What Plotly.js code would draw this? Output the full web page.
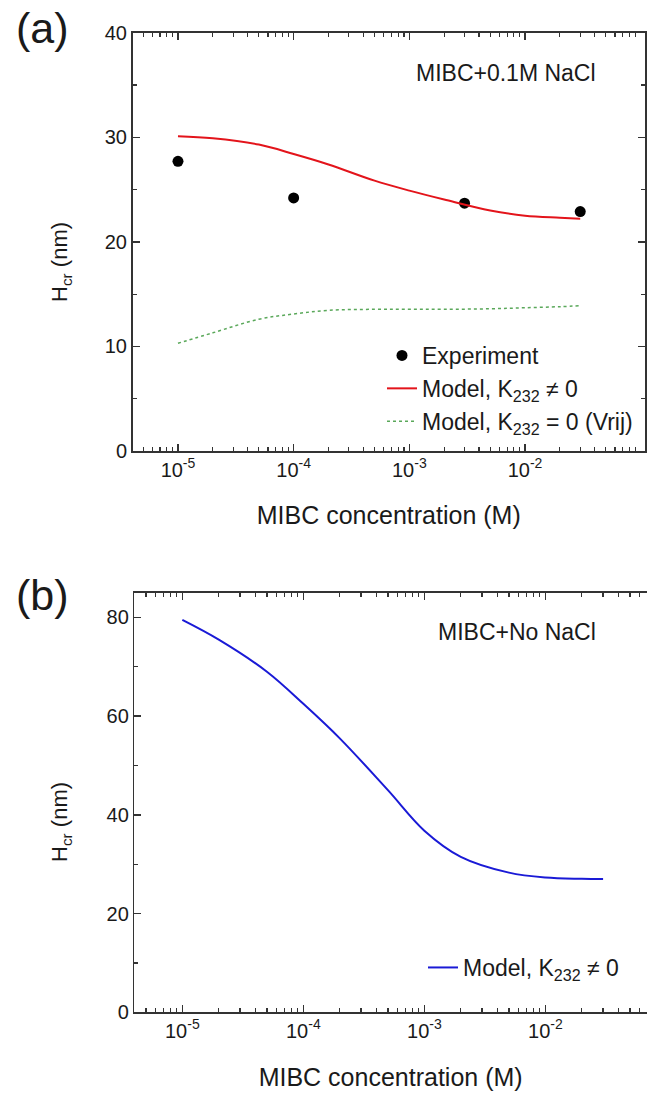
<!DOCTYPE html>
<html><head><meta charset="utf-8">
<script src="https://cdn.plot.ly/plotly-3.0.1.min.js"></script>
<style>body{margin:0;padding:0;background:#fff}#chart{width:647px;height:1093px}</style>
</head><body><div id="chart"></div>
<script>
// ---- data ----
const expConc = [1e-5, 1e-4, 3e-3, 3e-2];
const expHcr = [27.7, 24.2, 23.7, 22.9];
const modelConc = [1e-5, 2e-5, 5e-5, 1e-4, 2e-4, 5e-4, 1e-3, 2e-3, 5e-3, 1e-2, 2e-2, 3e-2];
const modelSaltK = [30.1, 29.9, 29.3, 28.4, 27.4, 25.85, 24.9, 24.05, 23.0, 22.5, 22.3, 22.2];
const modelSaltVrij = [10.3, 11.3, 12.6, 13.1, 13.45, 13.55, 13.55, 13.55, 13.6, 13.7, 13.8, 13.9];
const modelNoSaltK = [79.5, 75.5, 69.0, 62.5, 55.5, 45.0, 36.8, 31.5, 28.3, 27.3, 27.05, 27.0];
const xTickVals = [1e-5, 1e-4, 1e-3, 1e-2];
const xTickText = ['10<sup>-5</sup>', '10<sup>-4</sup>', '10<sup>-3</sup>', '10<sup>-2</sup>'];

// ---- layout helpers ----
const W = 647, H = 1093;
const px = v => v / W, py = v => 1 - v / H;
const FONT = 'Liberation Sans, Arial, sans-serif';
const AX = '#333';
const TXT = '#1a1a1a';
const minorVals = [];
for (let e = -6; e <= -1; e++) for (let m = 2; m <= 9; m++) minorVals.push(m * Math.pow(10, e));

function xAxis(domain, range, anchor) {
  return {
    type: 'log', domain: domain, range: range, anchor: anchor,
    showline: true, linecolor: AX, linewidth: 1.5, mirror: 'ticks',
    ticks: 'inside', ticklen: 7, tickwidth: 1.5, tickcolor: AX,
    tickmode: 'array', tickvals: xTickVals, ticktext: xTickText,
    minor: {tickmode: 'array', tickvals: minorVals, ticks: 'inside', ticklen: 4, tickwidth: 1.2, tickcolor: AX, showgrid: false},
    showgrid: false, zeroline: false,
    tickfont: {family: FONT, size: 20, color: TXT},
    title: {text: 'MIBC concentration (M)', font: {family: FONT, size: 25, color: TXT}, standoff: 27}
  };
}
function yAxis(domain, range, dtick, anchor, mirror) {
  return {
    domain: domain, range: range, anchor: anchor,
    showline: true, linecolor: AX, linewidth: 1.5, mirror: mirror,
    ticks: 'inside', ticklen: 7, tickwidth: 1.5, tickcolor: AX,
    tickmode: 'linear', tick0: 0, dtick: dtick,
    minor: {dtick: dtick / 2, ticks: 'inside', ticklen: 4, tickwidth: 1.2, tickcolor: AX, showgrid: false},
    showgrid: false, zeroline: false,
    tickfont: {family: FONT, size: 20, color: TXT}
  };
}

const traces = [
  {x: expConc, y: expHcr, type: 'scatter', mode: 'markers', name: 'Experiment',
   marker: {color: '#000', size: 11}, xaxis: 'x', yaxis: 'y', legend: 'legend'},
  {x: modelConc, y: modelSaltK, type: 'scatter', mode: 'lines', name: 'Model, K<sub>232</sub> ≠ 0',
   line: {color: '#e3141b', width: 2, shape: 'spline'}, xaxis: 'x', yaxis: 'y', legend: 'legend'},
  {x: modelConc, y: modelSaltVrij, type: 'scatter', mode: 'lines', name: 'Model, K<sub>232</sub> = 0 (Vrij)',
   line: {color: '#5aa85a', width: 1.5, dash: 'dot', shape: 'spline'}, xaxis: 'x', yaxis: 'y', legend: 'legend'},
  {x: modelConc, y: modelNoSaltK, type: 'scatter', mode: 'lines', name: 'Model, K<sub>232</sub> ≠ 0',
   line: {color: '#1a1ad6', width: 2, shape: 'spline'}, xaxis: 'x2', yaxis: 'y2', legend: 'legend2'}
];

const legFont = {family: FONT, size: 23, color: TXT};
function ann(text, x, y, size, extra) {
  return Object.assign({text: text, x: px(x), y: py(y), xref: 'paper', yref: 'paper',
    xanchor: 'center', yanchor: 'middle', showarrow: false,
    font: {family: FONT, size: size, color: TXT}}, extra || {});
}
const layout = {
  width: W, height: H, margin: {l: 0, r: 0, t: 0, b: 0},
  paper_bgcolor: '#fff', plot_bgcolor: '#fff',
  xaxis: xAxis([px(132.5), px(645)], [-5.393, -0.963], 'y'),
  yaxis: yAxis([py(451), py(32.7)], [0, 40], 10, 'x', 'ticks'),
  xaxis2: xAxis([px(134.3), 1], [-5.397, -1.16], 'y2'),
  yaxis2: yAxis([py(1012.3), py(592.7)], [0, 85], 20, 'x2', false),
  legend: {x: px(382), y: py(334), xanchor: 'left', yanchor: 'top', bgcolor: 'rgba(0,0,0,0)',
           font: legFont, tracegroupgap: 0},
  legend2: {x: px(423), y: py(946), xanchor: 'left', yanchor: 'top', bgcolor: 'rgba(0,0,0,0)',
            font: legFont},
  annotations: [
    ann('(a)', 42, 28, 43),
    ann('(b)', 42, 595, 43),
    ann('MIBC+0.1M NaCl', 598, 73, 23, {xanchor: 'right'}),
    ann('MIBC+No NaCl', 598, 632, 23, {xanchor: 'right'}),
    ann('H<sub>cr</sub> (nm)', 61, 262, 22, {textangle: -90}),
    ann('H<sub>cr</sub> (nm)', 61, 822, 22, {textangle: -90})
  ],
  showlegend: true
};
Plotly.newPlot('chart', traces, layout, {displayModeBar: false, staticPlot: true});
</script></body></html>
